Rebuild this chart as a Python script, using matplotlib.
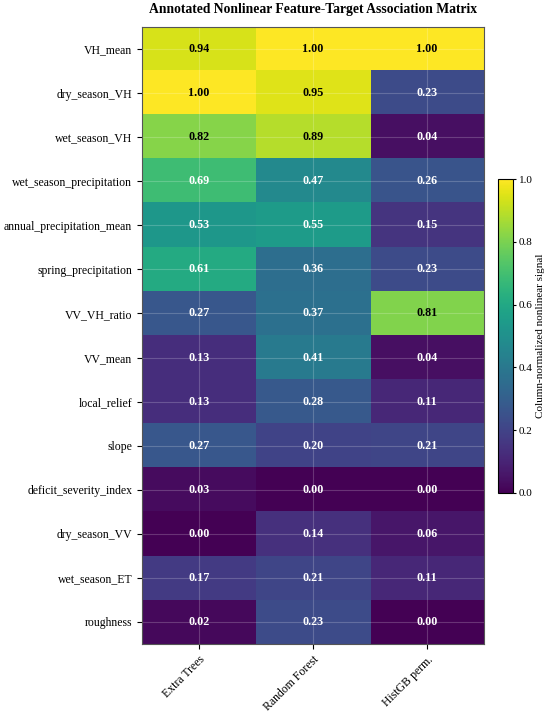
import numpy as np
import matplotlib
matplotlib.use('Agg')
import matplotlib.pyplot as plt

plt.rcParams['font.family'] = ['Liberation Serif', 'DejaVu Serif']

# Features (rows) and models (columns)
features = ['VH_mean', 'dry_season_VH', 'wet_season_VH', 'wet_season_precipitation',
            'annual_precipitation_mean', 'spring_precipitation', 'VV_VH_ratio', 'VV_mean',
            'local_relief', 'slope', 'deficit_severity_index', 'dry_season_VV',
            'wet_season_ET', 'roughness']
models = ['Extra Trees', 'Random Forest', 'HistGB perm.']

extra_trees = [0.94, 1.00, 0.82, 0.69, 0.53, 0.61, 0.27, 0.13, 0.13, 0.27, 0.03, 0.00, 0.17, 0.02]
random_forest = [1.00, 0.95, 0.89, 0.47, 0.55, 0.36, 0.37, 0.41, 0.28, 0.20, 0.00, 0.14, 0.21, 0.23]
histgb_perm = [1.00, 0.23, 0.04, 0.26, 0.15, 0.23, 0.81, 0.04, 0.11, 0.21, 0.00, 0.06, 0.11, 0.00]

mat = np.column_stack([extra_trees, random_forest, histgb_perm])

fig = plt.figure(figsize=(5.5, 7.15), dpi=100)
ax = fig.add_axes([0.258, 0.0993, 0.622, 0.863])
im = ax.imshow(mat, cmap='viridis', vmin=0, vmax=1, aspect='auto')

ax.set_xticks(range(len(models)))
ax.set_xticklabels(models, rotation=45, ha='right', rotation_mode='anchor', fontsize=8.5)
ax.set_yticks(range(len(features)))
ax.set_yticklabels(features, fontsize=8.5)
ax.grid(True, color='white', alpha=0.2, linewidth=0.8)
for s in ax.spines.values():
    s.set_edgecolor('#555555')

for i in range(mat.shape[0]):
    for j in range(mat.shape[1]):
        v = mat[i, j]
        ax.text(j, i, f'{v:.2f}', ha='center', va='center', fontsize=8.7,
                fontweight='bold', color='black' if v > 0.7 else 'white')

ax.set_title('Annotated Nonlinear Feature-Target Association Matrix',
             fontsize=9.8, fontweight='bold', pad=10)

cax = fig.add_axes([0.905, 0.3105, 0.027, 0.439])
cb = fig.colorbar(im, cax=cax)
cb.ax.tick_params(labelsize=8, length=2.5, pad=2)
cb.set_label('Column-normalized nonlinear signal', fontsize=8, labelpad=2)

fig.savefig('out.png', dpi=100)
